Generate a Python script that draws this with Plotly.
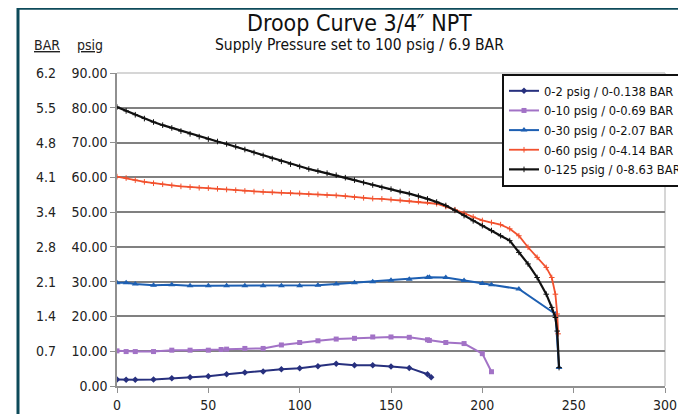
import plotly.graph_objects as go

# ---------------- data ----------------
s1_name = "0-2 psig / 0-0.138 BAR"
s1_x = [0, 5, 10, 20, 30, 40, 50, 60, 70, 80, 90, 100, 110, 120, 130, 140, 150, 160, 170, 172]
s1_y = [1.9, 1.8, 1.8, 1.9, 2.2, 2.5, 2.8, 3.4, 3.9, 4.2, 4.8, 5.1, 5.7, 6.4, 6.0, 6.0, 5.6, 5.2, 3.4, 2.5]

s2_name = "0-10 psig / 0-0.69 BAR"
s2_x = [0, 5, 10, 20, 30, 40, 50, 57, 60, 70, 80, 90, 100, 110, 120, 130, 140, 150, 160, 170, 171, 180, 190, 200, 205]
s2_y = [10.1, 9.9, 9.9, 9.9, 10.3, 10.3, 10.3, 10.5, 10.6, 10.8, 10.8, 11.8, 12.5, 13.0, 13.5, 13.7, 14.1, 14.1, 14.0, 13.3, 13.1, 12.5, 12.2, 9.3, 4.1]

s3_name = "0-30 psig / 0-2.07 BAR"
s3_x = [0, 5, 10, 20, 30, 40, 50, 60, 70, 80, 90, 100, 110, 120, 130, 140, 150, 160, 170, 171, 180, 190, 200, 205, 220, 240, 242]
s3_y = [29.7, 29.7, 29.3, 29.0, 29.1, 28.8, 28.8, 28.8, 28.8, 28.8, 28.8, 28.8, 29.0, 29.3, 29.7, 30.0, 30.4, 30.7, 31.2, 31.3, 31.2, 30.3, 29.5, 29.1, 27.9, 20.7, 5.3]

s4_name = "0-60 psig / 0-4.14 BAR"
s4_x = [0, 5, 10, 15, 20, 25, 30, 35, 40, 45, 50, 55, 60, 65, 70, 75, 80, 85, 90, 95,
        100, 105, 110, 115, 120, 125, 130, 135, 140, 145, 150, 155, 160, 165, 170, 175,
        180, 185, 190, 195, 200, 205, 210, 215, 220, 225, 230, 235, 238, 240, 241, 241.5]
s4_y = [60.2, 59.8, 59.2, 58.7, 58.3, 58.0, 57.7, 57.4, 57.2, 57.0, 56.9, 56.7, 56.5, 56.3, 56.1, 55.9, 55.8, 55.7, 55.6, 55.5,
        55.4, 55.2, 55.1, 54.9, 54.8, 54.6, 54.3, 54.1, 53.9, 53.8, 53.6, 53.4, 53.2, 53.0, 52.8, 52.4,
        51.6, 50.7, 49.7, 48.6, 47.6, 47.0, 46.4, 45.2, 43.2, 39.9, 37.0, 34.1, 31.2, 26.4, 20.7, 15.0]

s5_name = "0-125 psig / 0-8.63 BAR"
s5_x = [0, 5, 10, 15, 20, 25, 30, 35, 40, 45, 50, 55, 60, 65, 70, 75, 80, 85, 90, 95,
        100, 105, 110, 115, 120, 125, 130, 135, 140, 145, 150, 155, 160, 165, 170, 175,
        180, 185, 190, 195, 200, 205, 210, 215, 220, 225, 230, 235, 238, 240, 241, 242]
s5_y = [80.2, 79.1, 78.0, 76.9, 75.9, 75.0, 74.2, 73.3, 72.5, 71.7, 71.0, 70.3, 69.6, 68.8, 68.0, 67.1, 66.3, 65.4, 64.6, 63.8,
        63.1, 62.4, 61.8, 61.2, 60.6, 59.9, 59.2, 58.5, 57.8, 57.1, 56.6, 55.9, 55.3, 54.6, 53.8, 52.9,
        51.9, 50.5, 49.0, 47.5, 46.1, 44.7, 43.2, 41.8, 38.4, 35.1, 31.2, 26.4, 22.6, 19.7, 15.8, 5.3]

psig_ticks = [0, 10, 20, 30, 40, 50, 60, 70, 80, 90]
bar_labels = ["", "0.7", "1.4", "2.1", "2.8", "3.4", "4.1", "4.8", "5.5", "6.2"]
x_ticks = [0, 50, 100, 150, 200, 250, 300]

title_text = "Droop Curve 3/4\u2033 NPT"
subtitle_text = "Supply Pressure set to 100 psig / 6.9 BAR"

# ---------------- figure ----------------
FONT = "Liberation Sans Narrow, Arial Narrow, DejaVu Sans Condensed, sans-serif"

fig = go.Figure()
fig.add_trace(go.Scatter(x=s1_x, y=s1_y, name=s1_name, mode="lines+markers",
                         line=dict(color="#27307e", width=2),
                         marker=dict(symbol="diamond", size=5, color="#27307e")))
fig.add_trace(go.Scatter(x=s2_x, y=s2_y, name=s2_name, mode="lines+markers",
                         line=dict(color="#a272c6", width=2),
                         marker=dict(symbol="square", size=5, color="#a272c6")))
fig.add_trace(go.Scatter(x=s3_x, y=s3_y, name=s3_name, mode="lines+markers",
                         line=dict(color="#1d5fb2", width=2),
                         marker=dict(symbol="triangle-up", size=6, color="#1d5fb2")))
fig.add_trace(go.Scatter(x=s4_x, y=s4_y, name=s4_name, mode="lines+markers",
                         line=dict(color="#f2512e", width=1.8),
                         marker=dict(symbol="cross-thin", size=4, line=dict(color="#f2512e", width=1))))
fig.add_trace(go.Scatter(x=s5_x, y=s5_y, name=s5_name, mode="lines+markers",
                         line=dict(color="#111111", width=2.2),
                         marker=dict(symbol="cross-thin", size=4, line=dict(color="#111111", width=1))))

# page has an 8px body margin: figure origin sits at screen (8, 8)
OFF = 8
SCR_W, SCR_H = 686, 414
W, H = SCR_W - OFF, SCR_H - OFF
PL, PR, PT, PB = 117, 665, 73, 386          # plot area in screen pixels
L, R, T, B = PL - OFF, SCR_W - PR, PT - OFF, SCR_H - PB
pw = W - L - R
ph = H - T - B

def px(sx):
    return (sx - PL) / pw

def py(sy):
    return (PB - sy) / ph

# BAR labels on the left
for v, lab in zip(psig_ticks, bar_labels):
    if lab:
        fig.add_annotation(x=px(58), y=v, xref="paper", yref="y", text=lab, showarrow=False,
                           xanchor="right", yanchor="middle", font=dict(size=14, color="#222222", family=FONT))

fig.add_annotation(x=px(47), y=py(45), xref="paper", yref="paper", text="<u>BAR</u>", showarrow=False,
                   xanchor="center", yanchor="middle", font=dict(size=14, color="#222222", family=FONT))
fig.add_annotation(x=px(90), y=py(45), xref="paper", yref="paper", text="<u>psig</u>", showarrow=False,
                   xanchor="center", yanchor="middle", font=dict(size=14, color="#222222", family=FONT))

fig.add_annotation(x=px(359), y=py(23), xref="paper", yref="paper", text=title_text, showarrow=False,
                   xanchor="center", yanchor="middle", font=dict(size=23, color="#111111", family=FONT))
fig.add_annotation(x=px(359), y=py(45), xref="paper", yref="paper", text=subtitle_text, showarrow=False,
                   xanchor="center", yanchor="middle", font=dict(size=15.5, color="#111111", family=FONT))

shapes = [
    # light top border and right border of plot area
    dict(type="line", xref="paper", yref="paper", x0=0, x1=1, y0=1, y1=1,
         line=dict(color="#c8c8c8", width=1.5), layer="between"),
    dict(type="line", xref="paper", yref="paper", x0=1, x1=1, y0=0, y1=1,
         line=dict(color="#c8c8c8", width=1.5), layer="between"),
    # teal outer frame
    dict(type="line", xref="paper", yref="paper", x0=px(17), x1=px(700), y0=py(8.3), y1=py(8.3),
         line=dict(color="#0d4a5a", width=3)),
    dict(type="line", xref="paper", yref="paper", x0=px(18), x1=px(18), y0=py(7), y1=py(430),
         line=dict(color="#0d4a5a", width=3)),
]

fig.update_layout(
    width=W, height=H,
    margin=dict(l=L, r=R, t=T, b=B, autoexpand=False),
    paper_bgcolor="white", plot_bgcolor="white",
    font=dict(family=FONT, size=14, color="#222222"),
    showlegend=True,
    legend=dict(xref="container", yref="container",
                x=(502 - OFF) / W, y=1 - (74 - OFF) / H, xanchor="left", yanchor="top",
                bgcolor="white", bordercolor="#111111", borderwidth=2,
                font=dict(size=12.8, color="#111111", family=FONT),
                tracegroupgap=0, itemwidth=30),
    shapes=shapes,
    xaxis=dict(range=[0, 300], tickvals=x_ticks, showgrid=False, zeroline=False,
               showline=True, linecolor="#909090", linewidth=1.5,
               ticks="outside", ticklen=5, tickcolor="#909090",
               tickfont=dict(size=14, color="#222222", family=FONT)),
    yaxis=dict(range=[0, 90], tickvals=psig_ticks, tickformat=".2f",
               showgrid=True, gridcolor="#808080", gridwidth=1.5, zeroline=False,
               showline=True, linecolor="#909090", linewidth=1.5,
               ticks="outside", ticklen=5, tickcolor="#909090",
               tickfont=dict(size=14, color="#222222", family=FONT)),
)

fig.write_html("out.html")
